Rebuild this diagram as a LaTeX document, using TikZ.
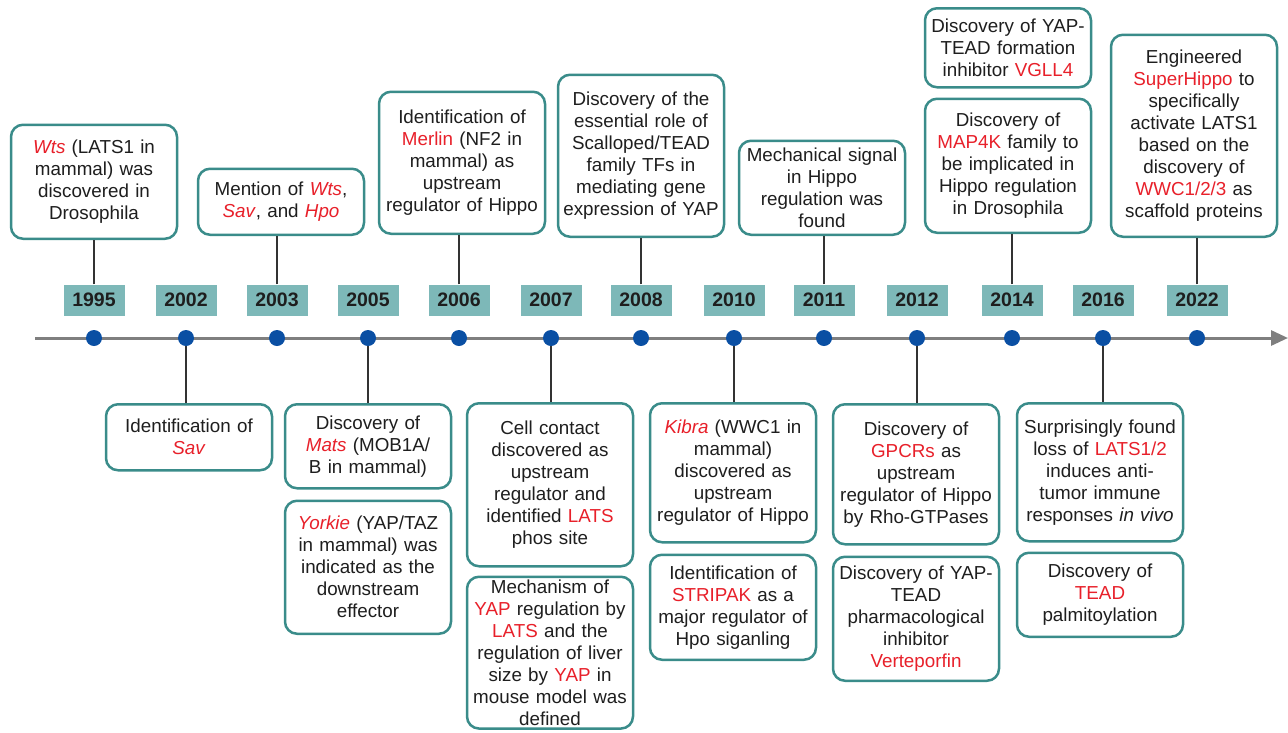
\documentclass[tikz,border=0pt]{standalone}
\usepackage{fontspec}
\setmainfont{Liberation Sans}
\usepackage{tikz}
\usetikzlibrary{positioning, arrows.meta}
\definecolor{boxteal}{HTML}{3A8C8A}
\definecolor{yearteal}{HTML}{7DB8B8}
\definecolor{dotblue}{HTML}{0A4FA3}
\definecolor{axisgray}{HTML}{7F7F7F}
\definecolor{stemgray}{HTML}{333333}
\definecolor{textdark}{HTML}{1E1E1E}
\definecolor{hired}{HTML}{E8202A}
\newcommand{\hlt}[1]{\textcolor{hired}{#1}}
\tikzset{
  eventbox/.style={
    draw=boxteal, line width=2.5pt, rounded corners=12pt, fill=white,
    text width=160pt, align=center, inner xsep=3pt, inner ysep=3pt,
    text=textdark, font=\fontsize{18.8}{22}\selectfont
  },
  yearbox/.style={
    fill=yearteal, minimum width=61pt, minimum height=31pt, inner sep=0pt,
    font=\bfseries\fontsize{19.5}{20}\selectfont, text=textdark
  },
  yeardot/.style={
    circle, fill=dotblue, minimum size=16pt, inner sep=0pt
  },
  stem/.style={
    line width=2.5pt, draw=stemgray
  },
  axis/.style={
    line width=3pt, draw=axisgray, -{Triangle[length=17pt,width=15pt]}
  }
}

\begin{document}
\begin{tikzpicture}[x=1pt, y=-1pt, node distance=10pt]
  \useasboundingbox (0,0) rectangle (1288,732);
  % time axis
  \coordinate (axisL) at (35,338);
  \coordinate (axisR) at (1288,338);
  \draw[axis] (axisL) -- (axisR);
  % years and dots
  \foreach \x/\yr in {94/1995, 186/2002, 277/2003, 368/2005, 459/2006, 551/2007, 641/2008,
                      734/2010, 824/2011, 917/2012, 1012/2014, 1103/2016, 1197/2022} {
    \node[yearbox] (y\yr) at (\x,300) {\yr};
    \node[yeardot] (d\yr) at (\x,338) {};
  }
  % events above the axis
  \node[eventbox, anchor=south, minimum height=114pt] (e1995) at (94,240)
    {\hlt{\textit{Wts}} (LATS1 in\\ mammal) was\\ discovered in\\ Drosophila};
  \node[eventbox, anchor=south, minimum height=66pt] (e2003) at (281,236)
    {Mention of \hlt{\textit{Wts}},\\ \hlt{\textit{Sav}}, and \hlt{\textit{Hpo}}};
  \node[eventbox, anchor=south, minimum height=142pt] (e2006) at (462,235)
    {Identification of\\ \hlt{Merlin} (NF2 in\\ mammal) as\\ upstream\\ regulator of Hippo};
  \node[eventbox, anchor=south, minimum height=162pt] (e2008) at (641,238)
    {Discovery of the\\ essential role of\\ Scalloped/TEAD\\ family TFs in\\ mediating gene\\ expression of YAP};
  \node[eventbox, anchor=south, minimum height=94pt] (e2011) at (822,236)
    {Mechanical signal\\ in Hippo\\ regulation was\\ found};
  \node[eventbox, anchor=south, minimum height=134pt] (e2014a) at (1008,234)
    {Discovery of\\ \hlt{MAP4K} family to\\ be implicated in\\ Hippo regulation\\ in Drosophila};
  \node[eventbox, above=9pt of e2014a, minimum height=79pt] (e2014b)
    {Discovery of YAP-\\ TEAD formation\\ inhibitor \hlt{VGLL4}};
  \node[eventbox, anchor=south, minimum height=202pt] (e2022) at (1194,238)
    {Engineered\\ \hlt{SuperHippo} to\\ specifically\\ activate LATS1\\ based on the\\ discovery of\\ \hlt{WWC1/2/3} as\\ scaffold proteins};
  % events below the axis
  \node[eventbox, anchor=north, minimum height=66pt] (e2002) at (189,403)
    {Identification of\\ \hlt{\textit{Sav}}};
  \node[eventbox, anchor=north, minimum height=84pt] (e2005a) at (368,403)
    {Discovery of\\ \hlt{\textit{Mats}} (MOB1A/\\ B in mammal)};
  \node[eventbox, below=of e2005a, minimum height=133pt] (e2005b)
    {\hlt{\textit{Yorkie}} (YAP/TAZ\\ in mammal) was\\ indicated as the\\ downstream\\ effector};
  \node[eventbox, anchor=north, minimum height=163pt] (e2007a) at (550,402)
    {Cell contact\\ discovered as\\ upstream\\ regulator and\\ identified \hlt{LATS}\\ phos site};
  \node[eventbox, below=8pt of e2007a] (e2007b)
    {Mechanism of\\ \hlt{YAP} regulation by\\ \hlt{LATS} and the\\ regulation of liver\\ size by \hlt{YAP} in\\ mouse model was\\ defined};
  \node[eventbox, anchor=north, minimum height=139pt] (e2010a) at (733,402)
    {\hlt{\textit{Kibra}} (WWC1 in\\ mammal)\\ discovered as\\ upstream\\ regulator of Hippo};
  \node[eventbox, below=of e2010a, minimum height=105pt] (e2010b)
    {Identification of\\ \hlt{STRIPAK} as a\\ major regulator of\\ Hpo siganling};
  \node[eventbox, anchor=north, minimum height=140pt] (e2012a) at (916,403)
    {Discovery of\\ \hlt{GPCRs} as\\ upstream\\ regulator of Hippo\\ by Rho-GTPases};
  \node[eventbox, below=of e2012a, minimum height=124pt] (e2012b)
    {Discovery of YAP-\\ TEAD\\ pharmacological\\ inhibitor\\ \hlt{Verteporfin}};
  \node[eventbox, anchor=north, minimum height=138pt] (e2016a) at (1100,402)
    {Surprisingly found\\ loss of \hlt{LATS1/2}\\ induces anti-\\ tumor immune\\ responses \textit{in vivo}};
  \node[eventbox, below=9pt of e2016a, minimum height=84pt] (e2016b)
    {Discovery of\\ \hlt{TEAD}\\ palmitoylation};
  % stems
  \foreach \yr in {1995, 2003, 2006, 2008, 2011, 2022}
    \draw[stem] (y\yr.north) -- (y\yr.north |- e\yr.south);
  \draw[stem] (y2014.north) -- (y2014.north |- e2014a.south);
  \draw[stem] (d2002.south) -- (d2002.south |- e2002.north);
  \foreach \yr in {2005, 2007, 2010, 2012, 2016}
    \draw[stem] (d\yr.south) -- (d\yr.south |- e\yr a.north);
\end{tikzpicture}
\end{document}
